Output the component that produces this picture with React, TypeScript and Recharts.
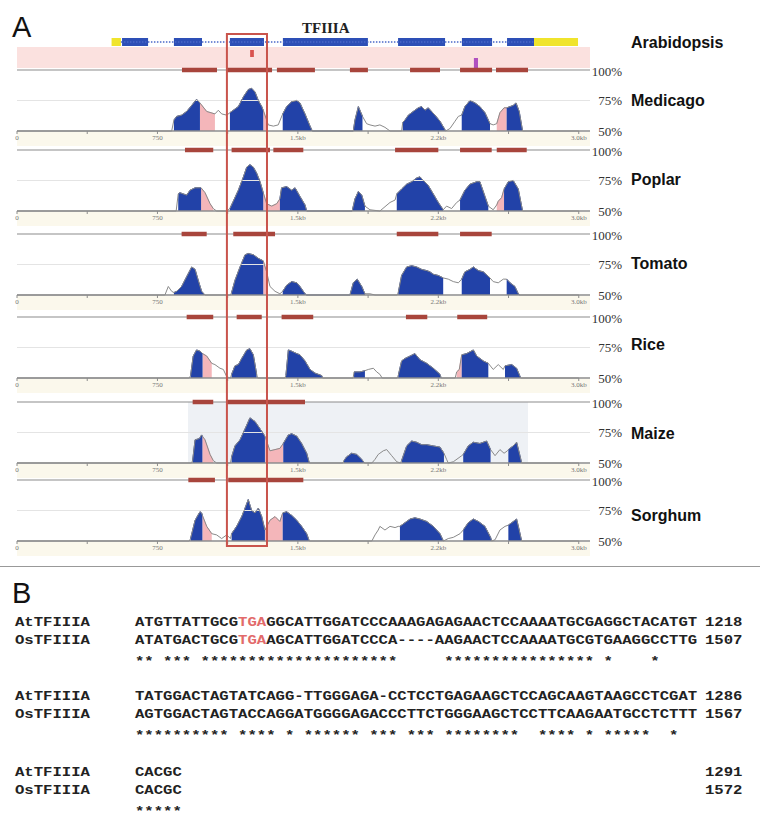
import React from "react";
import {
  Area,
  ComposedChart,
  Line,
  ReferenceArea,
  ReferenceLine,
  XAxis,
  YAxis,
} from "recharts";

type Pt = [number, number];
type Span = [number, number];

// x axis in bp along the Arabidopsis TFIIIA locus, tracks in % identity
const X_MAX = 3060;
const X_TICKS = [0, 375, 750, 1125, 1500, 1875, 2250, 2625, 3000];
const X_LABELS: Record<number, string> = {
  0: "0",
  750: "750",
  1500: "1.5kb",
  2250: "2.2kb",
  3000: "3.0kb",
};
const PCT_TICKS = [50, 75, 100];

// Arabidopsis gene model
const GENE_UTR: Span[] = [
  [505, 555],
  [2761, 2996],
];
const GENE_EXONS: Span[] = [
  [561, 700],
  [838, 988],
  [1137, 1319],
  [1420, 1874],
  [2035, 2286],
  [2376, 2537],
  [2617, 2761],
];
const GENE_INTRON: Span = [555, 2761];
const STOP_MARK: Span = [1245, 1265];
const SITE_MARK: Span = [2440, 2462];
const BOX: Span = [1121, 1335];

// Medicago
const medicagoProfile: Pt[] = [
  [0, 50], [826, 50], [838, 59], [853, 62], [879, 63], [906, 66], [933, 71], [959, 76],
  [977, 73], [1013, 66], [1057, 64], [1075, 67], [1093, 64], [1120, 63], [1137, 65],
  [1155, 67], [1182, 70], [1209, 78], [1235, 84], [1253, 85], [1271, 82], [1289, 75],
  [1307, 70], [1315, 67], [1333, 59], [1342, 55], [1369, 54], [1395, 55], [1419, 64],
  [1440, 70], [1467, 74], [1494, 75], [1511, 73], [1538, 64], [1565, 54], [1577, 50],
  [1796, 50], [1805, 59], [1823, 70], [1845, 62], [1867, 56], [1885, 55], [1912, 54],
  [1938, 55], [1965, 53], [1992, 50], [2054, 50], [2060, 57], [2072, 59], [2090, 63],
  [2116, 66], [2143, 69], [2161, 70], [2179, 67], [2196, 69], [2214, 66], [2232, 63],
  [2259, 58], [2282, 52], [2289, 50], [2312, 52], [2339, 58], [2357, 62], [2375, 63],
  [2392, 70], [2419, 75], [2446, 73], [2472, 70], [2499, 65], [2526, 56], [2543, 55],
  [2562, 56], [2579, 65], [2601, 69], [2615, 69], [2633, 70], [2650, 71], [2665, 73],
  [2682, 66], [2700, 50], [3000, 50],
];
const medicagoExons: Span[] = [[838, 977], [1137, 1315], [1419, 1577], [1796, 1845], [2060, 2289], [2375, 2526], [2615, 2700]];
const medicagoUtr: Span[] = [[977, 1057], [1315, 1333], [2562, 2615]];
const medicagoCns: Span[] = [[881, 1068], [1121, 1362], [1388, 1591], [1778, 1874], [2099, 2259], [2366, 2537], [2558, 2729]];

// Poplar
const poplarProfile: Pt[] = [
  [0, 50], [850, 50], [861, 64], [870, 65], [906, 63], [924, 67], [951, 69], [983, 69],
  [1004, 65], [1031, 56], [1048, 52], [1066, 50], [1120, 50], [1137, 52], [1155, 58],
  [1182, 67], [1209, 78], [1227, 86], [1244, 88], [1262, 86], [1280, 81], [1298, 74],
  [1315, 65], [1333, 56], [1360, 54], [1387, 56], [1404, 60], [1413, 69], [1440, 70],
  [1467, 67], [1485, 69], [1511, 62], [1538, 55], [1547, 50], [1790, 50], [1805, 60],
  [1823, 66], [1841, 63], [1858, 54], [1885, 51], [1938, 50], [1992, 57], [2019, 59],
  [2028, 64], [2054, 68], [2081, 72], [2108, 74], [2134, 77], [2152, 78], [2170, 75],
  [2196, 71], [2223, 64], [2250, 57], [2276, 51], [2294, 54], [2321, 52], [2348, 57],
  [2366, 59], [2392, 67], [2419, 72], [2455, 74], [2472, 74], [2499, 62], [2517, 54],
  [2543, 51], [2562, 55], [2570, 58], [2588, 61], [2601, 68], [2624, 74], [2650, 75],
  [2677, 68], [2700, 50], [3000, 50],
];
const poplarExons: Span[] = [[861, 983], [1137, 1315], [1404, 1547], [1790, 1858], [2028, 2276], [2366, 2517], [2601, 2700]];
const poplarUtr: Span[] = [[983, 1048], [1315, 1404], [2562, 2601]];
const poplarCns: Span[] = [[897, 1048], [1146, 1351], [1369, 1529], [2019, 2250], [2366, 2535], [2562, 2722]];

// Tomato
const tomatoProfile: Pt[] = [
  [0, 50], [790, 50], [808, 57], [826, 53], [838, 52], [853, 53], [879, 57], [906, 65],
  [933, 73], [951, 71], [968, 62], [986, 53], [1004, 50], [1140, 50], [1146, 52],
  [1164, 62], [1191, 73], [1218, 83], [1235, 84], [1262, 83], [1289, 80], [1315, 78],
  [1333, 69], [1351, 57], [1378, 53], [1404, 51], [1419, 53], [1440, 58], [1467, 61],
  [1494, 60], [1511, 57], [1538, 51], [1547, 50], [1778, 50], [1796, 60], [1817, 63],
  [1841, 57], [1858, 51], [1885, 51], [1912, 50], [2030, 50], [2036, 52], [2054, 66],
  [2081, 73], [2108, 74], [2134, 73], [2161, 71], [2188, 70], [2205, 69], [2223, 67],
  [2250, 66], [2276, 64], [2303, 63], [2330, 61], [2357, 60], [2375, 63], [2392, 69],
  [2419, 71], [2437, 73], [2464, 70], [2490, 69], [2526, 64], [2543, 61], [2570, 60],
  [2597, 63], [2615, 63], [2633, 60], [2659, 57], [2677, 51], [2685, 50], [3000, 50],
];
const tomatoExons: Span[] = [[838, 1004], [1146, 1315], [1419, 1547], [1778, 1858], [2036, 2276], [2375, 2526], [2615, 2685]];
const tomatoUtr: Span[] = [[1315, 1333]];
const tomatoCns: Span[] = [[879, 1013], [1155, 1378], [2028, 2250], [2366, 2535]];

// Rice
const riceProfile: Pt[] = [
  [0, 50], [920, 50], [927, 52], [941, 68], [959, 73], [977, 72], [991, 70], [1013, 68],
  [1040, 62], [1057, 61], [1084, 58], [1102, 57], [1120, 51], [1140, 50], [1146, 53],
  [1164, 60], [1182, 61], [1200, 66], [1227, 73], [1244, 74], [1262, 69], [1280, 53],
  [1285, 50], [1430, 50], [1436, 52], [1449, 73], [1467, 72], [1494, 70], [1511, 69],
  [1538, 64], [1565, 57], [1591, 54], [1627, 52], [1632, 50], [1795, 50], [1800, 55],
  [1832, 55], [1858, 56], [1876, 57], [1903, 58], [1921, 55], [1938, 53], [1950, 50],
  [2030, 50], [2036, 52], [2054, 64], [2072, 66], [2099, 68], [2125, 70], [2152, 65],
  [2188, 62], [2223, 58], [2259, 53], [2265, 50], [2340, 50], [2348, 55], [2362, 57],
  [2375, 69], [2401, 70], [2437, 73], [2455, 68], [2490, 64], [2517, 62], [2543, 57],
  [2570, 61], [2597, 57], [2606, 60], [2642, 61], [2668, 58], [2690, 50], [3000, 50],
];
const riceExons: Span[] = [[927, 991], [1146, 1280], [1436, 1632], [1800, 1858], [2036, 2265], [2375, 2517], [2606, 2690]];
const riceUtr: Span[] = [[991, 1040], [2348, 2375]];
const riceCns: Span[] = [[906, 1048], [1173, 1307], [1413, 1582], [2077, 2191], [2351, 2511]];

// Maize
const maizeProfile: Pt[] = [
  [0, 50], [932, 50], [938, 52], [951, 69], [974, 70], [986, 73], [990, 72], [1004, 69],
  [1031, 57], [1048, 52], [1066, 50], [1140, 50], [1146, 55], [1164, 64], [1191, 69],
  [1218, 78], [1244, 87], [1271, 84], [1298, 78], [1324, 72], [1351, 60], [1378, 61],
  [1404, 62], [1422, 66], [1449, 73], [1467, 74], [1494, 72], [1520, 66], [1547, 58],
  [1561, 50], [1740, 50], [1746, 52], [1760, 55], [1787, 58], [1814, 57], [1841, 53],
  [1855, 50], [1895, 50], [1912, 53], [1929, 57], [1938, 58], [1956, 60], [1974, 61],
  [2001, 56], [2028, 51], [2048, 50], [2054, 52], [2081, 64], [2108, 68], [2134, 67],
  [2161, 65], [2188, 65], [2223, 64], [2259, 63], [2280, 58], [2294, 53], [2303, 50],
  [2330, 51], [2375, 56], [2383, 57], [2410, 64], [2437, 67], [2472, 66], [2508, 68],
  [2529, 61], [2553, 56], [2579, 61], [2601, 58], [2619, 60], [2624, 61], [2650, 64],
  [2668, 67], [2686, 56], [2695, 50], [3000, 50],
];
const maizeExons: Span[] = [[938, 990], [1146, 1324], [1422, 1561], [1746, 1855], [2054, 2280], [2383, 2529], [2624, 2695]];
const maizeUtr: Span[] = [[990, 1048], [1324, 1422]];
const maizeCns: Span[] = [[938, 1048], [1120, 1538]];
const maizeWindow: Span = [913, 2729];

// Sorghum
const sorghumProfile: Pt[] = [
  [0, 50], [920, 50], [927, 52], [951, 67], [977, 74], [986, 73], [990, 71], [1013, 62],
  [1040, 56], [1066, 55], [1093, 52], [1120, 55], [1140, 52], [1146, 56], [1173, 62],
  [1200, 70], [1218, 77], [1235, 84], [1253, 75], [1271, 73], [1289, 77], [1307, 70],
  [1324, 59], [1351, 67], [1378, 70], [1404, 66], [1419, 73], [1440, 74], [1467, 71],
  [1494, 67], [1520, 62], [1547, 56], [1561, 50], [1895, 50], [1912, 55], [1929, 59],
  [1938, 62], [1965, 59], [1992, 62], [2019, 61], [2036, 62], [2045, 62], [2072, 65],
  [2099, 68], [2125, 69], [2152, 68], [2188, 66], [2223, 62], [2259, 56], [2277, 50],
  [2303, 52], [2330, 53], [2366, 56], [2383, 59], [2410, 65], [2437, 68], [2464, 66],
  [2499, 62], [2529, 53], [2535, 50], [2553, 51], [2579, 59], [2606, 62], [2624, 63],
  [2642, 65], [2668, 68], [2682, 59], [2695, 50], [3000, 50],
];
const sorghumExons: Span[] = [[927, 990], [1146, 1324], [1419, 1561], [2045, 2277], [2383, 2535], [2624, 2695]];
const sorghumUtr: Span[] = [[990, 1040], [1324, 1419]];
const sorghumCns: Span[] = [[915, 1057], [1128, 1529]];

// alignment (panel B)
const AT_ROWS = [
  "ATGTTATTGCGTGAGGCATTGGATCCCAAAGAGAGAACTCCAAAATGCGAGGCTACATGT",
  "TATGGACTAGTATCAGG-TTGGGAGA-CCTCCTGAGAAGCTCCAGCAAGTAAGCCTCGAT",
  "CACGC",
];
const OS_ROWS = [
  "ATATGACTGCGTGAAGCATTGGATCCCA----AAGAACTCCAAAATGCGTGAAGGCCTTG",
  "AGTGGACTAGTACCAGGATGGGGAGACCCTTCTGGGAAGCTCCTTCAAGAATGCCTCTTT",
  "CACGC",
];
const STAR_ROWS = [
  "** *** *********************     **************** *    *",
  "********** **** * ****** *** *** ********  **** * *****  *",
  "*****",
];
const AT_END = [1218, 1286, 1291];
const OS_END = [1507, 1567, 1572];
const STOP_CODON: Span = [11, 14];

const TRACKS = [
  { name: "Medicago", profile: medicagoProfile, exons: medicagoExons, utr: medicagoUtr, cns: medicagoCns },
  { name: "Poplar", profile: poplarProfile, exons: poplarExons, utr: poplarUtr, cns: poplarCns },
  { name: "Tomato", profile: tomatoProfile, exons: tomatoExons, utr: tomatoUtr, cns: tomatoCns },
  { name: "Rice", profile: riceProfile, exons: riceExons, utr: riceUtr, cns: riceCns },
  { name: "Maize", profile: maizeProfile, exons: maizeExons, utr: maizeUtr, cns: maizeCns, shade: maizeWindow },
  { name: "Sorghum", profile: sorghumProfile, exons: sorghumExons, utr: sorghumUtr, cns: sorghumCns },
];

// layout: y of 100% line and 50% baseline per track, label centre
const TRACK_Y: [number, number][] = [
  [70, 131],
  [150, 211],
  [234, 295],
  [317, 378],
  [402, 463],
  [480, 541],
];
const LABEL_Y = [100, 179, 263, 344, 433, 515];

const BLUE = "#2242a8";
const PINK = "#f4b6ba";
const BROWN = "#a8453c";
const AXIS = "#8c8c8c";
const MONO = "'Liberation Mono', 'DejaVu Sans Mono', monospace";
const SERIF = "'Liberation Serif', 'DejaVu Serif', serif";
const SANS = "'Liberation Sans', Arial, sans-serif";
const CHAR_W = 9.37;

const inSpans = (x: number, spans: Span[]) => spans.some(([a, b]) => x >= a && x <= b);

function PctTick(props: any) {
  const { y, payload } = props;
  return (
    <text x={622} y={y} dy={4.5} textAnchor="end" fontSize={13} fontFamily={SERIF} fill="#333">
      {payload.value}%
    </text>
  );
}

function Track({ track, top, bottom }: { track: (typeof TRACKS)[number]; top: number; bottom: number }) {
  const mTop = 8;
  const axisH = 14;
  const rows = track.profile.map(([pos, pct]) => ({
    pos,
    pct,
    exon: inSpans(pos, track.exons) ? pct : null,
    utr: inSpans(pos, track.utr) ? pct : null,
  }));
  return (
    <div style={{ position: "absolute", left: 0, top: top - mTop }}>
      <ComposedChart
        width={760}
        height={mTop + (bottom - top) + axisH}
        data={rows}
        margin={{ top: mTop, right: 130, bottom: 0, left: 17 }}
      >
        <XAxis
          dataKey="pos"
          type="number"
          domain={[0, X_MAX]}
          ticks={X_TICKS}
          interval={0}
          height={axisH}
          tickSize={3}
          tickMargin={1}
          stroke={AXIS}
          axisLine={{ stroke: AXIS, strokeWidth: 1.5 }}
          tick={{ fontSize: 7, fill: "#777", fontFamily: SERIF }}
          tickFormatter={(v: number) => X_LABELS[v] ?? ""}
        />
        <YAxis
          orientation="right"
          type="number"
          domain={[50, 100]}
          ticks={PCT_TICKS}
          width={40}
          axisLine={false}
          tickLine={false}
          tick={<PctTick />}
        />
        {track.shade && (
          <ReferenceArea x1={track.shade[0]} x2={track.shade[1]} y1={50} y2={100} fill="#eef1f5" fillOpacity={1} />
        )}
        <ReferenceLine y={75} stroke="#e4e4e4" strokeWidth={1} />
        <Area
          dataKey="utr"
          type="linear"
          baseValue={50}
          fill={PINK}
          fillOpacity={1}
          stroke={PINK}
          connectNulls={false}
          dot={false}
          activeDot={false}
          isAnimationActive={false}
        />
        <Line dataKey="pct" type="linear" stroke="#8a8a8a" strokeWidth={1} dot={false} activeDot={false} isAnimationActive={false} />
        <Area
          dataKey="exon"
          type="linear"
          baseValue={50}
          fill={BLUE}
          fillOpacity={1}
          stroke="#1c3896"
          strokeWidth={1}
          connectNulls={false}
          dot={false}
          activeDot={false}
          isAnimationActive={false}
        />
        <ReferenceLine y={100} stroke={AXIS} strokeWidth={1.2} />
        {track.cns.map(([a, b], i) => (
          <ReferenceLine
            key={i}
            segment={[
              { x: a, y: 100 },
              { x: b, y: 100 },
            ]}
            stroke={BROWN}
            strokeWidth={4.5}
            ifOverflow="visible"
          />
        ))}
      </ComposedChart>
    </div>
  );
}

function GeneModel() {
  // plot spans page y 30..70; value = 70 - y
  return (
    <div style={{ position: "absolute", left: 0, top: 30 }}>
      <ComposedChart width={760} height={40} data={[]} margin={{ top: 0, right: 170, bottom: 0, left: 17 }}>
        <XAxis dataKey="x" type="number" domain={[0, X_MAX]} allowDataOverflow hide />
        <YAxis type="number" domain={[0, 40]} allowDataOverflow hide />
        <ReferenceArea x1={0} x2={X_MAX} y1={2} y2={23} fill="#fbe1df" fillOpacity={1} ifOverflow="visible" />
        <ReferenceLine
          segment={[
            { x: GENE_INTRON[0], y: 28 },
            { x: GENE_INTRON[1], y: 28 },
          ]}
          stroke="#4a68c8"
          strokeWidth={1.5}
          strokeDasharray="1.5 1.5"
          ifOverflow="visible"
        />
        {GENE_UTR.map(([a, b], i) => (
          <ReferenceArea key={"u" + i} x1={a} x2={b} y1={24} y2={32} fill="#f0e42c" fillOpacity={1} ifOverflow="visible" />
        ))}
        {GENE_EXONS.map(([a, b], i) => (
          <ReferenceArea key={"e" + i} x1={a} x2={b} y1={24} y2={32} fill="#2d4fb6" fillOpacity={1} ifOverflow="visible" />
        ))}
        <ReferenceArea x1={STOP_MARK[0]} x2={STOP_MARK[1]} y1={13} y2={20} fill="#d9534f" fillOpacity={1} ifOverflow="visible" />
        <ReferenceArea x1={SITE_MARK[0]} x2={SITE_MARK[1]} y1={2} y2={12} fill="#b050c0" fillOpacity={1} ifOverflow="visible" />
      </ComposedChart>
    </div>
  );
}

function FocusBox() {
  return (
    <div style={{ position: "absolute", left: 0, top: 33 }}>
      <ComposedChart width={760} height={514} data={[]} margin={{ top: 0, right: 170, bottom: 0, left: 17 }}>
        <XAxis dataKey="x" type="number" domain={[0, X_MAX]} allowDataOverflow hide />
        <YAxis type="number" domain={[0, 1]} allowDataOverflow hide />
        <ReferenceArea
          x1={BOX[0]}
          x2={BOX[1]}
          y1={0.002}
          y2={0.998}
          fill="none"
          stroke="#c9544c"
          strokeWidth={2}
          ifOverflow="visible"
        />
      </ComposedChart>
    </div>
  );
}

function SeqLine({ x, y, text, red }: { x: number; y: number; text: string; red?: Span }) {
  const parts = red
    ? [
        { s: text.slice(0, red[0]), c: "#222" },
        { s: text.slice(red[0], red[1]), c: "#e26a6a" },
        { s: text.slice(red[1]), c: "#222" },
      ]
    : [{ s: text, c: "#222" }];
  return (
    <text
      x={x}
      y={y}
      fontFamily={MONO}
      fontWeight="bold"
      fontSize={13}
      textLength={text.length * CHAR_W}
      lengthAdjust="spacingAndGlyphs"
      style={{ whiteSpace: "pre" }}
    >
      {parts.map((p, i) => (
        <tspan key={i} fill={p.c}>
          {p.s}
        </tspan>
      ))}
    </text>
  );
}

const SPECIES = TRACKS.map((t) => t.name);

export default function App() {
  const blockY = [626, 700, 776];
  return (
    <div style={{ position: "absolute", left: 0, top: 0, width: 760, height: 820, background: "#fff", overflow: "hidden" }}>
      <svg width={760} height={820} style={{ position: "absolute", left: 0, top: 0 }}>
        {TRACK_Y.map(([, b], i) => (
          <rect key={i} x={17} y={b + 1} width={573} height={14} fill="#fbf8ec" />
        ))}
        <line x1={0} x2={760} y1={566.5} y2={566.5} stroke="#999" strokeWidth={1} />
      </svg>
      <GeneModel />
      {TRACKS.map((t, i) => (
        <Track key={t.name} track={t} top={TRACK_Y[i][0]} bottom={TRACK_Y[i][1]} />
      ))}
      <FocusBox />
      <svg width={760} height={820} style={{ position: "absolute", left: 0, top: 0, pointerEvents: "none" }}>
        <text x={12} y={37} fontFamily={SANS} fontSize={29} fill="#111">
          A
        </text>
        <text x={302} y={33} fontFamily={SERIF} fontWeight="bold" fontSize={15} fill="#222">
          TFIIIA
        </text>
        <text x={631} y={48} fontFamily={SANS} fontWeight="bold" fontSize={16} fill="#111">
          Arabidopsis
        </text>
        {SPECIES.map((s, i) => (
          <text key={s} x={631} y={LABEL_Y[i] + 6} fontFamily={SANS} fontWeight="bold" fontSize={16} fill="#111">
            {s}
          </text>
        ))}
        <text x={12} y={603} fontFamily={SANS} fontSize={29} fill="#111">
          B
        </text>
        {blockY.map((y, i) => (
          <g key={i}>
            <SeqLine x={15} y={y} text="AtTFIIIA" />
            <SeqLine x={135} y={y} text={AT_ROWS[i]} red={i === 0 ? STOP_CODON : undefined} />
            <SeqLine x={705} y={y} text={String(AT_END[i])} />
            <SeqLine x={15} y={y + 18} text="OsTFIIIA" />
            <SeqLine x={135} y={y + 18} text={OS_ROWS[i]} red={i === 0 ? STOP_CODON : undefined} />
            <SeqLine x={705} y={y + 18} text={String(OS_END[i])} />
            <SeqLine x={135} y={y + 39} text={STAR_ROWS[i]} />
          </g>
        ))}
      </svg>
    </div>
  );
}
